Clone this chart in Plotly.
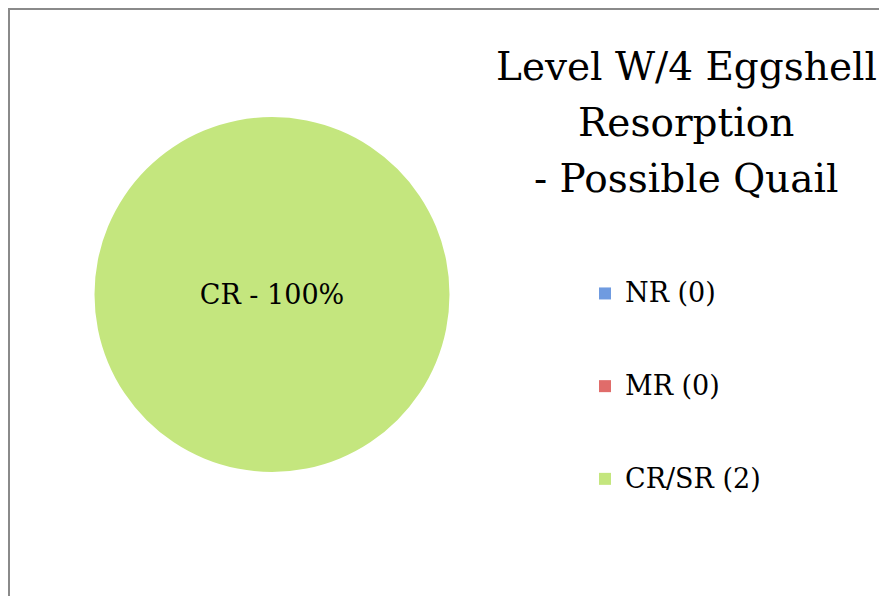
import plotly.graph_objects as go

# data
categories = ["NR", "MR", "CR/SR"]
short_labels = ["NR", "MR", "CR"]
counts = [0, 0, 2]
slice_colors = ["#6f9be0", "#e06c6a", "#c4e67e"]
title_lines = ["Level W/4 Eggshell", "Resorption", "- Possible Quail"]

# the page has an 8px body margin, so the figure starts at (8, 8)
OFF = 8
W, H = 887 - OFF, 596 - OFF
FONT = "DejaVu Serif"


def px(x):
    return (x - OFF) / W


def py(y):
    return 1 - (y - OFF) / H


# legend labels padded with blank lines so the entries spread out vertically
legend_labels = [f"<span style='font-size:27px'>{c} ({n})</span><br> <br> "
                 for c, n in zip(categories, counts)]

fig = go.Figure()

fig.add_trace(go.Pie(
    labels=legend_labels,
    values=counts,
    text=short_labels,
    texttemplate="%{text} - %{percent:.0%}",
    textposition="inside",
    insidetextfont=dict(family=FONT, size=27, color="black"),
    marker=dict(colors=slice_colors, line=dict(width=0)),
    sort=False,
    direction="clockwise",
    hoverinfo="value+percent",
    domain=dict(x=[px(94), px(450)], y=[py(472), py(117)]),
))

# title lines on the right
for i, line in enumerate(title_lines):
    fig.add_annotation(
        text=line, xref="paper", yref="paper",
        x=px(686), y=py(66 + i * 56),
        xanchor="center", yanchor="middle", showarrow=False,
        font=dict(family=FONT, size=39, color="black"),
    )

# chart border (left and top edge visible)
fig.add_shape(type="rect", xref="paper", yref="paper",
              x0=1 / W, x1=1.02, y0=-0.02, y1=1 - 1 / H,
              line=dict(color="#8a8a8a", width=2))

fig.update_layout(
    width=W, height=H,
    margin=dict(l=0, r=0, t=0, b=0),
    paper_bgcolor="white",
    plot_bgcolor="white",
    showlegend=True,
    legend=dict(
        x=px(585), y=py(272), xanchor="left", yanchor="top",
        valign="top",
        font=dict(family=FONT, size=23, color="black"),
        bgcolor="rgba(0,0,0,0)",
        traceorder="normal",
    ),
)

fig.write_html("out.html")
